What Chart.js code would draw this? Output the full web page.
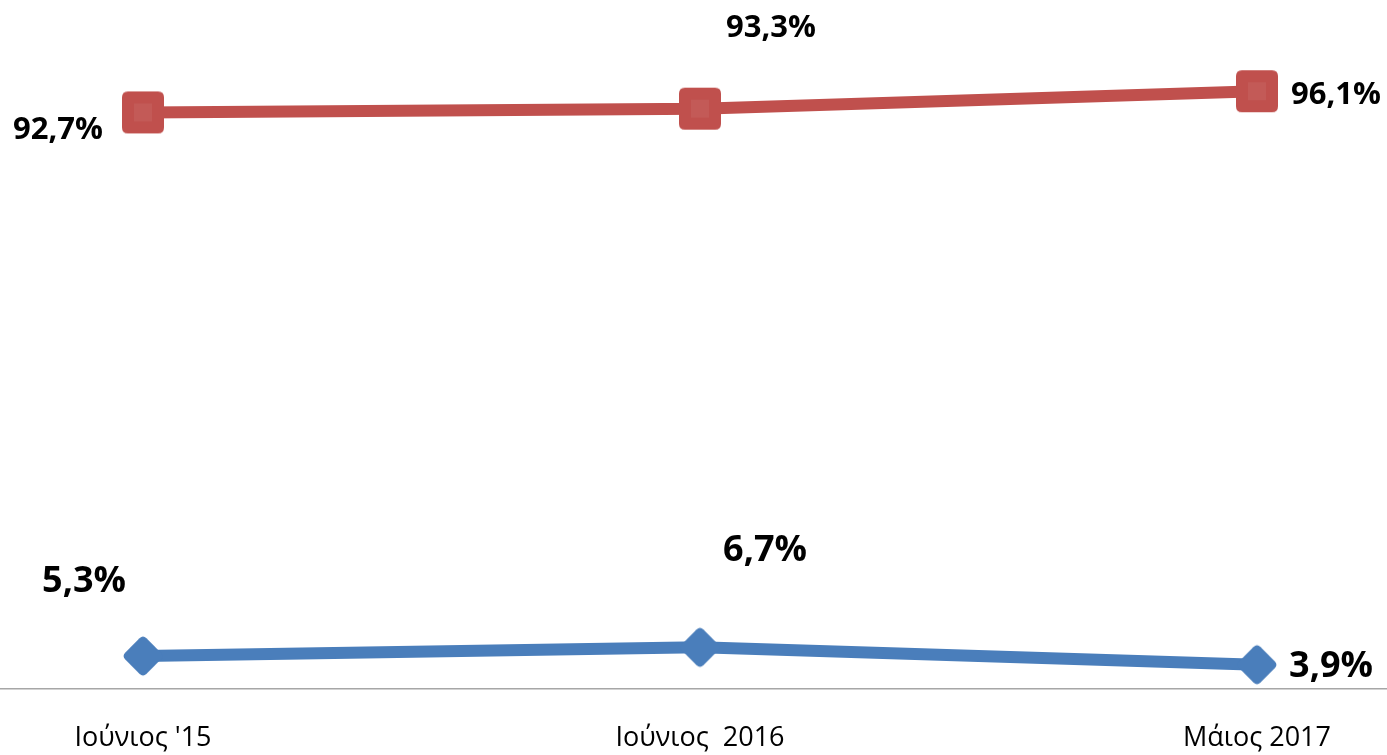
<!DOCTYPE html>
<html>
<head>
<meta charset="utf-8">
<script src="https://cdn.jsdelivr.net/npm/chart.js@4/dist/chart.umd.min.js"></script>
<style>
  html, body { margin: 0; padding: 0; background: #fff; }
  #wrap { width: 1387px; height: 755px; position: relative; }
</style>
</head>
<body>
<div id="wrap"><canvas id="c"></canvas></div>
<script>
// ---- data ----
const categories = ["Ιούνιος '15", "Ιούνιος  2016", "Μάιος 2017"];
const upperValues = [92.7, 93.3, 96.1];
const lowerValues = [5.3, 6.7, 3.9];
const upperLabels = ["92,7%", "93,3%", "96,1%"];
const lowerLabels = ["5,3%", "6,7%", "3,9%"];

// label offsets (style only)
const upperOffsets = [[-85, 18], [71, -80], [79, 4]];
const lowerOffsets = [[-59, -74], [65, -97], [74, 2]];

const RED = '#C0504D';
const BLUE = '#4A7EBB';

function roundRect(ctx, x, y, w, h, r) {
  ctx.beginPath();
  ctx.moveTo(x + r, y);
  ctx.lineTo(x + w - r, y);
  ctx.quadraticCurveTo(x + w, y, x + w, y + r);
  ctx.lineTo(x + w, y + h - r);
  ctx.quadraticCurveTo(x + w, y + h, x + w - r, y + h);
  ctx.lineTo(x + r, y + h);
  ctx.quadraticCurveTo(x, y + h, x, y + h - r);
  ctx.lineTo(x, y + r);
  ctx.quadraticCurveTo(x, y, x + r, y);
  ctx.closePath();
}

function squareMarker() {
  const c = document.createElement('canvas');
  c.width = 46; c.height = 46;
  const ctx = c.getContext('2d');
  ctx.fillStyle = RED;
  roundRect(ctx, 2, 2, 42, 42, 6);
  ctx.fill();
  ctx.fillStyle = 'rgba(255,255,255,0.06)';
  ctx.fillRect(14, 14, 18, 18);
  return c;
}
function diamondMarker() {
  const c = document.createElement('canvas');
  c.width = 46; c.height = 46;
  const ctx = c.getContext('2d');
  ctx.translate(23, 23);
  ctx.rotate(Math.PI / 4);
  ctx.fillStyle = BLUE;
  roundRect(ctx, -15, -15, 30, 30, 5);
  ctx.fill();
  return c;
}

const labelPlugin = {
  id: 'valueLabels',
  afterDatasetsDraw(chart) {
    const ctx = chart.ctx;
    const specs = [
      { ds: 0, texts: upperLabels, offs: upperOffsets, size: 31 },
      { ds: 1, texts: lowerLabels, offs: lowerOffsets, size: 36 }
    ];
    ctx.save();
    ctx.fillStyle = '#000';
    ctx.textAlign = 'center';
    ctx.textBaseline = 'middle';
    specs.forEach(s => {
      const meta = chart.getDatasetMeta(s.ds);
      ctx.font = 'bold ' + s.size + 'px "Open Sans"';
      meta.data.forEach((pt, i) => {
        ctx.fillText(s.texts[i], pt.x + s.offs[i][0], pt.y + s.offs[i][1]);
      });
    });
    ctx.restore();
  }
};

new Chart(document.getElementById('c'), {
  type: 'line',
  data: {
    datasets: [
      {
        data: upperValues.map((v, i) => ({ x: i, y: v })),
        borderColor: RED,
        backgroundColor: RED,
        borderWidth: 12,
        pointStyle: squareMarker(),
        pointRadius: 23,
        tension: 0,
        clip: false
      },
      {
        data: lowerValues.map((v, i) => ({ x: i, y: v })),
        borderColor: BLUE,
        backgroundColor: BLUE,
        borderWidth: 12,
        pointStyle: diamondMarker(),
        pointRadius: 23,
        tension: 0,
        clip: false
      }
    ]
  },
  options: {
    responsive: true,
    maintainAspectRatio: false,
    animation: false,
    layout: { padding: 0, autoPadding: false },
    plugins: { legend: { display: false }, tooltip: { enabled: false } },
    scales: {
      x: {
        type: 'linear',
        min: -0.2567,
        max: 2.2334,
        grid: { display: false },
        border: { display: true, color: '#A6A6A6', width: 1.5 },
        afterBuildTicks: (scale) => { scale.ticks = categories.map((_, i) => ({ value: i })); },
        afterFit: (scale) => { scale.height = 66; scale.paddingLeft = 0; scale.paddingRight = 0; },
        ticks: {
          autoSkip: false,
          maxRotation: 0,
          padding: 25,
          color: '#000',
          font: { family: '"Open Sans"', size: 27 },
          callback: (v) => categories[v] !== undefined ? categories[v] : ''
        }
      },
      y: {
        display: false,
        min: 0,
        max: 110.77
      }
    }
  },
  plugins: [labelPlugin]
});
</script>
</body>
</html>
